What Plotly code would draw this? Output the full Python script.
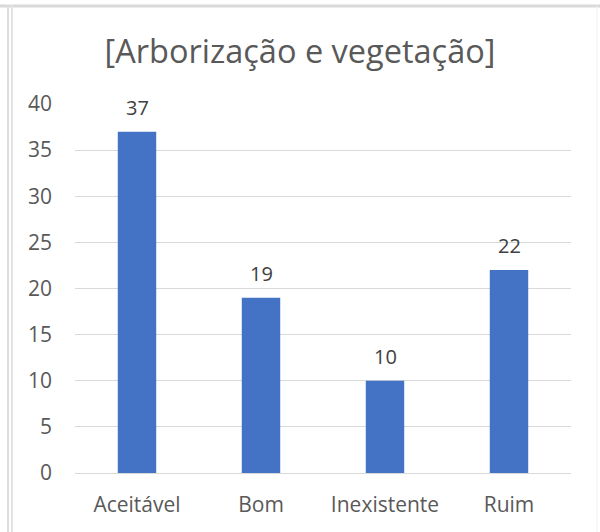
import plotly.graph_objects as go

categories = ["Aceitável", "Bom", "Inexistente", "Ruim"]
values = [37, 19, 10, 22]
title_text = "[Arborização e vegetação]"
y_ticks = [0, 5, 10, 15, 20, 25, 30, 35, 40]

font_family = "Open Sans, Liberation Sans, sans-serif"
text_color = "#595959"

fig = go.Figure(
    go.Bar(
        x=categories,
        y=values,
        marker=dict(color="#4472C4", line=dict(width=0)),
        width=0.31,
        hoverinfo="x+y",
    )
)

annotations = [
    dict(x=c, y=v, xref="x", yref="y", text=str(v), showarrow=False,
         yanchor="bottom", yshift=9,
         font=dict(size=20, color="#404040", family=font_family))
    for c, v in zip(categories, values)
]

fig.update_layout(
    width=600,
    height=532,
    paper_bgcolor="white",
    plot_bgcolor="white",
    margin=dict(l=75, r=29, t=104, b=59),
    title=dict(
        text=title_text,
        x=0.5,
        xanchor="center",
        y=1 - 52 / 532,
        yanchor="middle",
        font=dict(size=32.5, color=text_color, family=font_family),
    ),
    showlegend=False,
    font=dict(family=font_family, color=text_color),
    annotations=annotations,
)

fig.update_yaxes(
    range=[0, 40],
    tickvals=y_ticks,
    showgrid=True,
    gridcolor="#D9D9D9",
    gridwidth=1,
    zeroline=False,
    showline=False,
    ticks="",
    ticklabelstandoff=22,
    tickfont=dict(size=21, color=text_color, family=font_family),
)
fig.update_xaxes(
    showline=True,
    linecolor="#D9D9D9",
    linewidth=1,
    ticks="",
    tickfont=dict(size=21, color=text_color, family=font_family),
    ticklabelstandoff=13,
)

# Outer frame lines
shapes = [
    dict(type="line", xref="paper", yref="paper", x0=-75 / 496, x1=(600 - 75) / 496,
         y0=1 + (104 - 6) / 369, y1=1 + (104 - 6) / 369, line=dict(color="#D9D9D9", width=3)),
    dict(type="line", xref="paper", yref="paper", x0=-(75 - 8) / 496, x1=-(75 - 8) / 496,
         y0=-59 / 369, y1=1 + (104 - 5) / 369, line=dict(color="#DDDDDD", width=2)),
    dict(type="line", xref="paper", yref="paper", x0=-(75 - 12) / 496, x1=-(75 - 12) / 496,
         y0=-59 / 369, y1=1 + (104 - 5) / 369, line=dict(color="#E3E3E3", width=2)),
    dict(type="line", xref="paper", yref="paper", x0=(597 - 75) / 496, x1=(597 - 75) / 496,
         y0=-59 / 369, y1=1 + (104 - 6) / 369, line=dict(color="#F0F0F0", width=1)),
]
fig.update_layout(shapes=shapes)

fig.write_html("out.html", config={"displayModeBar": False},
               post_script="document.body.style.margin='0';")
